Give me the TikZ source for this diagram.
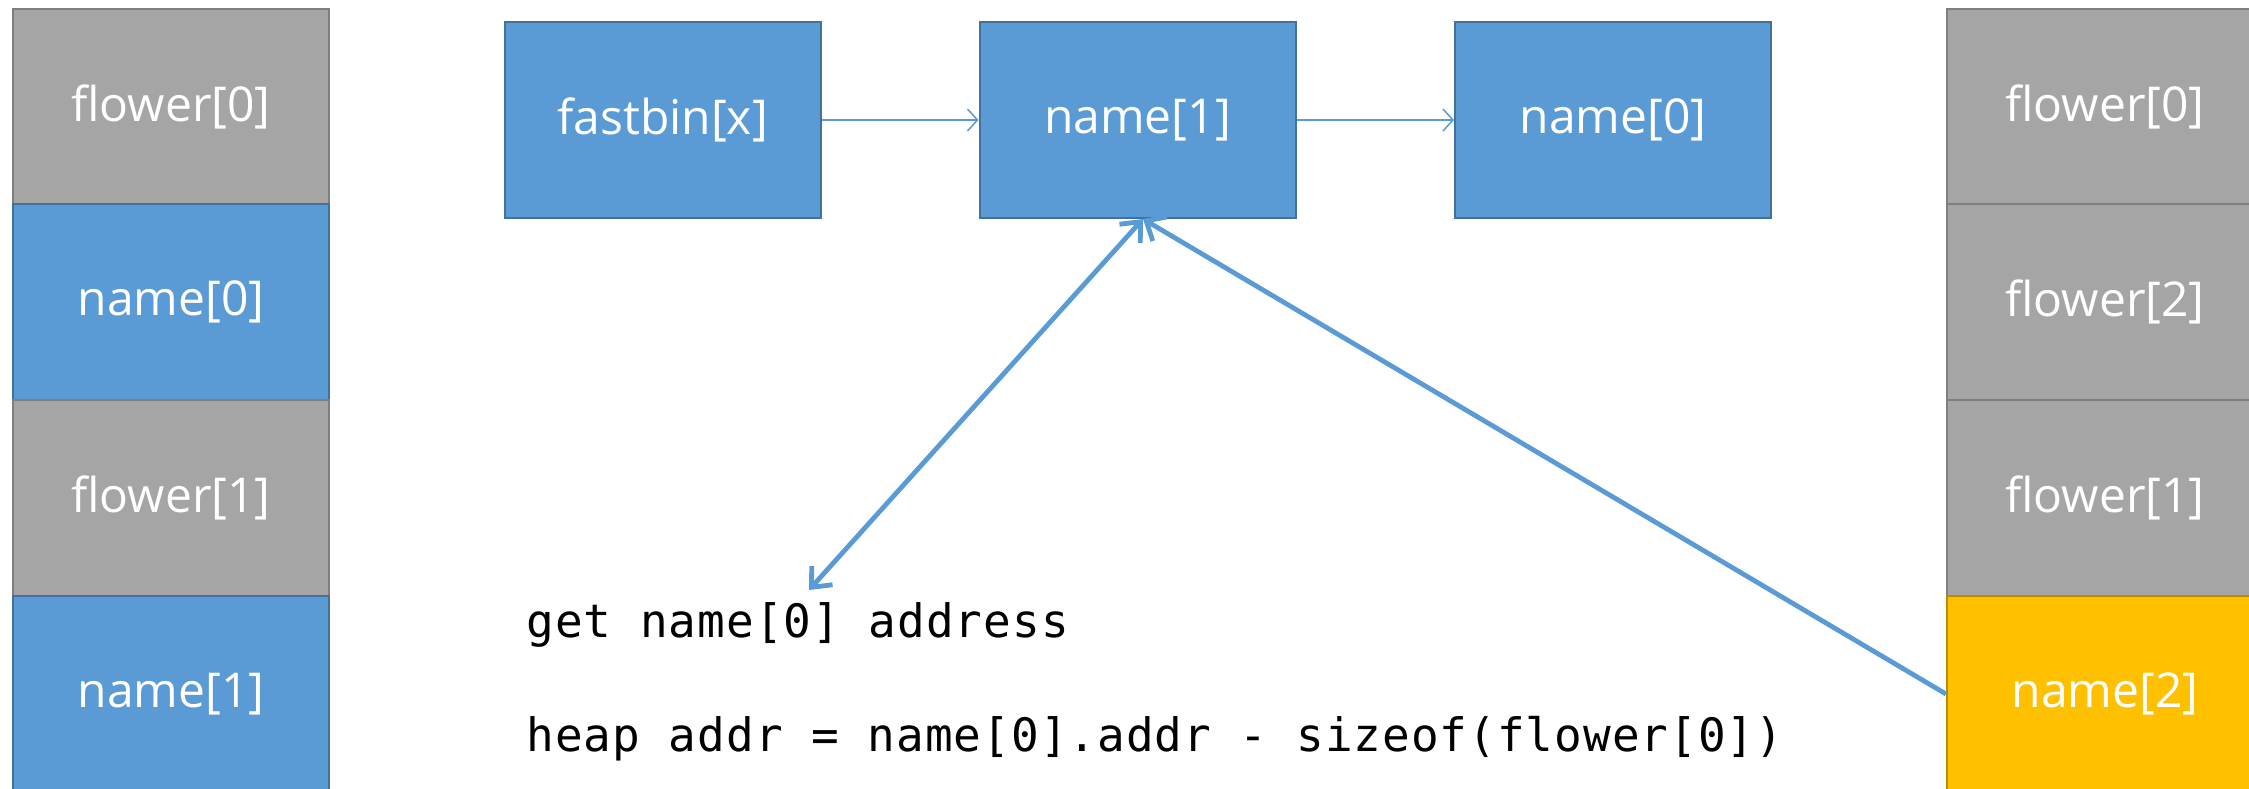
\documentclass[tikz,border=0pt]{standalone}
\usepackage{fontspec}
\setmainfont{Open Sans}
\newfontfamily\codefont[LetterSpace=2.2]{DejaVu Sans Mono}
\usetikzlibrary{arrows.meta}
\definecolor{chunkblue}{HTML}{5B9BD5}
\definecolor{chunkblueedge}{HTML}{41719C}
\definecolor{chunkgray}{HTML}{A5A5A5}
\definecolor{chunkgrayedge}{HTML}{7F7F7F}
\definecolor{chunkgold}{HTML}{FFC000}
\definecolor{chunkgoldedge}{HTML}{BC8C00}
\tikzset{
  barb/.tip={Straight Barb[length=8pt,width=14pt]},
  thinbarb/.tip={Straight Barb[length=5pt,width=11pt]},
}
\begin{document}
\begin{tikzpicture}[x=0.5pt,y=-0.5pt,
  chunk/.style={draw, line width=1pt, minimum width=158pt, minimum height=98pt,
    inner sep=0pt, text=white, font=\fontsize{24}{28}\selectfont},
  used/.style={chunk, fill=chunkblue, draw=chunkblueedge},
  freed/.style={chunk, fill=chunkgray, draw=chunkgrayedge},
  target/.style={chunk, fill=chunkgold, draw=chunkgoldedge},
  link/.style={draw=chunkblue, line width=0.75pt, -thinbarb},
  ptr/.style={draw=chunkblue, line width=2.4pt},
  code/.style={anchor=base west, inner sep=0pt,
    font=\fontsize{23}{28}\selectfont\codefont}]
\path[use as bounding box] (0,0) rectangle (2249,788);
\clip (0,0) rectangle (2249,788);

% heap layout before the attack
\node[freed]  (L1) at (171,106.5) {flower[0]};
\node[used]   (L2) at (171,302)   {name[0]};
\node[freed]  (L3) at (171,498)   {flower[1]};
\node[used]   (L4) at (171,694)   {name[1]};

% heap layout after the attack
\node[freed]  (R1) at (2105,106.5) {flower[0]};
\node[freed]  (R2) at (2105,302)   {flower[2]};
\node[freed]  (R3) at (2105,498)   {flower[1]};
\node[target] (R4) at (2105,694)   {name[2]};

% fastbin free list
\node[used] (fb) at (662.5,120) {fastbin[x]};
\node[used] (n1) at (1137.5,120) {name[1]};
\node[used] (n0) at (1613,120)  {name[0]};
\draw[link] (fb) -- (n1);
\draw[link] (n1) -- (n0);

% explanation
\node[code] (get)  at (526,637) {get name[0] address};
\node[code] (heap) at (526,751) {heap addr = name[0].addr - sizeof(flower[0])};

% pointers
\coordinate (hit)  at (1143,219);
\coordinate (addr) at (809,590);
\draw[ptr, barb-barb] (addr) -- (hit);
\draw[ptr, -barb] (R4.west) -- (hit);
\end{tikzpicture}
\end{document}
